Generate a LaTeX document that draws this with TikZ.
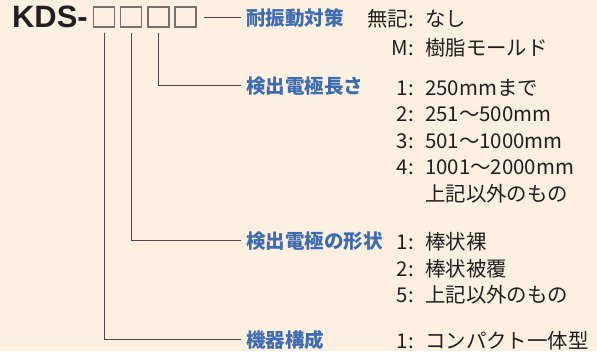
\documentclass[tikz,border=0pt]{standalone}
\usepackage{fontspec}
\setmainfont{Noto Sans CJK JP}
\newfontfamily\kdsfont{Liberation Sans}
\usepackage{tikz}
\usetikzlibrary{positioning,calc}
\definecolor{bgpeach}{RGB}{253,240,225}
\definecolor{kdsblue}{RGB}{61,109,176}
\definecolor{linegray}{RGB}{77,72,69}
\definecolor{boxgray}{RGB}{120,114,110}
\definecolor{txtblack}{RGB}{35,31,32}

\begin{document}
\begin{tikzpicture}[x=1bp,y=-1bp,
    codebox/.style={draw=boxgray, line width=1.3bp, minimum width=21bp, minimum height=20bp, inner sep=0pt},
    item/.style={text=kdsblue, font=\bfseries\fontsize{19.6}{19.6}\selectfont, anchor=base west, inner xsep=5bp, inner ysep=0pt},
    key/.style={text=txtblack, font=\fontsize{20.5}{20.5}\selectfont, anchor=base east, inner sep=0pt},
    val/.style={text=txtblack, font=\fontsize{20.5}{20.5}\selectfont, anchor=base west, inner sep=0pt},
    lead/.style={draw=linegray, line width=1bp}]
            \fill[bgpeach] (0,0) rectangle (597,351);
            \useasboundingbox (0,0) rectangle (597,351);

            % model code
            \node[anchor=base west, inner sep=0pt, text=txtblack, font=\kdsfont\bfseries\fontsize{31}{31}\selectfont] (kds) at (12,27) {KDS-};
            \foreach \i/\x in {1/104,2/131,3/158.5,4/185.5}
            \node[codebox] (b\i) at (\x,17) {};

            % items
            \node[item] (vib) at (241,25.5) {耐振動対策};
            \node[item] (len) at (241,93.5) {検出電極長さ};
            \node[item] (shape) at (241,248.5) {検出電極の形状};
            \node[item] (unit) at (241,347.5) {機器構成};

            \draw[lead, shorten <=7bp] (b4.east) -- (b4.east -| vib.west);
            \draw[lead, shorten <=5bp] (b3.south) |- ($(len.west)+(0,-1)$);
            \draw[lead, shorten <=5bp] (b2.south) |- ($(shape.west)+(0,-1)$);
            \draw[lead, shorten <=5bp] (b1.south) |- ($(unit.west)+(0,-1)$);

            % choices
            \foreach \y/\k/\v in {26/無記:/なし, 55/M:/樹脂モールド,
                95/1:/250mmまで, 121/2:/251～500mm, 148/3:/501～1000mm, 174/4:/1001～2000mm, 201//上記以外のもの,
                249/1:/棒状裸, 276/2:/棒状被覆, 302/5:/上記以外のもの,
                348/1:/コンパクト一体型}
            {
            \node[key] (k\y) at (414,\y) {\k};
            \node[val] (v\y) at (425,\y) {\v};
            }
        \end{tikzpicture}
\end{document}
